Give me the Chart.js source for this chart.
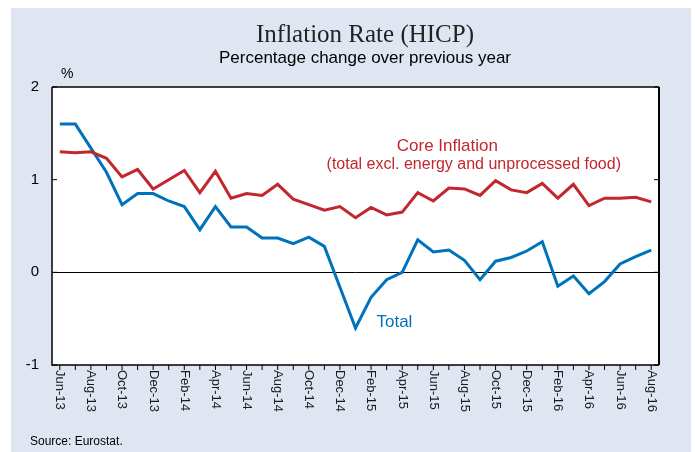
<!DOCTYPE html>
<html>
<head>
<meta charset="utf-8">
<script src="https://cdn.jsdelivr.net/npm/chart.js@4.4.0/dist/chart.umd.min.js"></script>
<style>
  body { margin: 0; background: #ffffff; }
</style>
</head>
<body>
<canvas id="InflationChart" width="695" height="452"></canvas>
<script>
// monthly data, Jun-13 .. Aug-16
var Months = [
    "Jun-13","Jul-13","Aug-13","Sep-13","Oct-13","Nov-13","Dec-13",
    "Jan-14","Feb-14","Mar-14","Apr-14","May-14","Jun-14","Jul-14","Aug-14","Sep-14","Oct-14","Nov-14","Dec-14",
    "Jan-15","Feb-15","Mar-15","Apr-15","May-15","Jun-15","Jul-15","Aug-15","Sep-15","Oct-15","Nov-15","Dec-15",
    "Jan-16","Feb-16","Mar-16","Apr-16","May-16","Jun-16","Jul-16","Aug-16"
];
var TotalValues = [
    1.60, 1.60, 1.34, 1.08, 0.73, 0.85, 0.85,
    0.77, 0.71, 0.46, 0.71, 0.49, 0.49, 0.37, 0.37, 0.31, 0.38, 0.28, -0.16,
    -0.60, -0.27, -0.08, 0.00, 0.35, 0.22, 0.24, 0.13, -0.08, 0.12, 0.16, 0.23,
    0.33, -0.15, -0.04, -0.23, -0.10, 0.09, 0.17, 0.24
];
var CoreValues = [
    1.30, 1.29, 1.30, 1.23, 1.03, 1.11, 0.90,
    1.00, 1.10, 0.86, 1.09, 0.80, 0.85, 0.83, 0.95, 0.79, 0.73, 0.67, 0.71,
    0.59, 0.70, 0.62, 0.65, 0.86, 0.77, 0.91, 0.90, 0.83, 0.99, 0.89, 0.86,
    0.96, 0.80, 0.95, 0.72, 0.80, 0.80, 0.81, 0.76
];
var YTicks = [-1, 0, 1, 2];

var Red = 'rgb(193, 39, 45)';
var Blue = 'rgb(0, 114, 188)';
var Panel = 'rgb(223, 230, 242)';
var Sans = '"Liberation Sans", Arial, sans-serif';

var framePlugin = {
    id: 'frame',
    beforeDraw: function (chart) {
        var ctx = chart.ctx, a = chart.chartArea;
        ctx.save();
        ctx.fillStyle = Panel;
        ctx.fillRect(11, 8, 680, 444);
        ctx.fillStyle = '#ffffff';
        ctx.fillRect(a.left, a.top, a.right - a.left, a.bottom - a.top);
        ctx.restore();
    },
    afterDraw: function (chart) {
        var ctx = chart.ctx, a = chart.chartArea;
        var xs = chart.scales.x, ys = chart.scales.y;
        ctx.save();

        // box
        ctx.strokeStyle = '#000000';
        ctx.lineWidth = 1.5;
        ctx.beginPath();
        ctx.moveTo(a.left, a.top);
        ctx.lineTo(a.right, a.top);
        ctx.moveTo(a.left, a.top);
        ctx.lineTo(a.left, a.bottom);
        ctx.lineTo(a.right, a.bottom);
        ctx.stroke();
        ctx.lineWidth = 2;
        ctx.beginPath();
        ctx.moveTo(a.right, a.top);
        ctx.lineTo(a.right, a.bottom);
        ctx.stroke();

        // y ticks, inside on both sides
        ctx.lineWidth = 1;
        YTicks.forEach(function (v) {
            var y = ys.getPixelForValue(v);
            ctx.beginPath();
            ctx.moveTo(a.left, y);
            ctx.lineTo(a.left + 5, y);
            ctx.moveTo(a.right - 5, y);
            ctx.lineTo(a.right, y);
            ctx.stroke();
        });

        // x ticks every month, outside
        for (var i = 0; i < Months.length; i++) {
            var x = xs.getPixelForValue(i);
            ctx.beginPath();
            ctx.moveTo(x, a.bottom);
            ctx.lineTo(x, a.bottom + 5);
            ctx.stroke();
        }

        // x labels every other month, turned clockwise
        ctx.fillStyle = '#1a1a1a';
        ctx.font = '13px ' + Sans;
        ctx.textAlign = 'left';
        ctx.textBaseline = 'middle';
        for (var j = 0; j < Months.length; j += 2) {
            ctx.save();
            ctx.translate(xs.getPixelForValue(j), a.bottom + 5);
            ctx.rotate(Math.PI / 2);
            ctx.fillText(Months[j], 0, 0);
            ctx.restore();
        }

        // titles
        ctx.textAlign = 'center';
        ctx.textBaseline = 'alphabetic';
        ctx.fillStyle = '#222222';
        ctx.font = '25px "Liberation Serif", "Times New Roman", serif';
        ctx.fillText('Inflation Rate (HICP)', 365, 42);
        ctx.fillStyle = '#000000';
        ctx.font = '17px ' + Sans;
        ctx.fillText('Percentage change over previous year', 365, 63);

        ctx.textAlign = 'left';
        ctx.font = '14px ' + Sans;
        ctx.fillText('%', 61, 78);
        ctx.font = '12px ' + Sans;
        ctx.fillText('Source: Eurostat.', 30, 445);

        // series notes
        ctx.textAlign = 'center';
        ctx.fillStyle = Red;
        ctx.font = '17px ' + Sans;
        ctx.fillText('Core Inflation', xs.getPixelForValue(24.9), ys.getPixelForValue(1.31));
        ctx.font = '16px ' + Sans;
        ctx.fillText('(total excl. energy and unprocessed food)', xs.getPixelForValue(26.6), ys.getPixelForValue(1.11));
        ctx.fillStyle = Blue;
        ctx.font = '17px ' + Sans;
        ctx.fillText('Total', xs.getPixelForValue(21.5), ys.getPixelForValue(-0.59));

        ctx.restore();
    }
};

var canvas = document.getElementById('InflationChart').getContext('2d');

var inflationChart = new Chart(canvas, {
    type: 'line',
    data: {
        labels: Months,
        datasets: [{
            label: 'Core Inflation',
            data: CoreValues,
            borderColor: Red,
            borderWidth: 3,
            pointRadius: 0,
            tension: 0,
            fill: false
        }, {
            label: 'Total',
            data: TotalValues,
            borderColor: Blue,
            borderWidth: 3,
            pointRadius: 0,
            tension: 0,
            fill: false
        }]
    },
    options: {
        responsive: false,
        animation: false,
        layout: { padding: { left: 0, top: 87, right: 36, bottom: 0 } },
        plugins: {
            legend: { display: false },
            tooltip: { enabled: false }
        },
        scales: {
            x: {
                offset: true,
                grid: { display: false },
                border: { display: false },
                ticks: { display: false },
                afterFit: function (scale) { scale.height = 87; }
            },
            y: {
                min: -1,
                max: 2,
                afterBuildTicks: function (scale) {
                    scale.ticks = YTicks.map(function (v) { return { value: v }; });
                },
                grid: {
                    drawTicks: false,
                    color: function (c) { return c.tick && c.tick.value === 0 ? '#000000' : 'rgba(0,0,0,0)'; },
                    lineWidth: 1
                },
                border: { display: false },
                ticks: {
                    padding: 13,
                    color: '#000000',
                    font: { family: Sans, size: 15 }
                },
                afterFit: function (scale) { scale.width = 52; }
            }
        }
    },
    plugins: [framePlugin]
});
</script>
</body>
</html>
